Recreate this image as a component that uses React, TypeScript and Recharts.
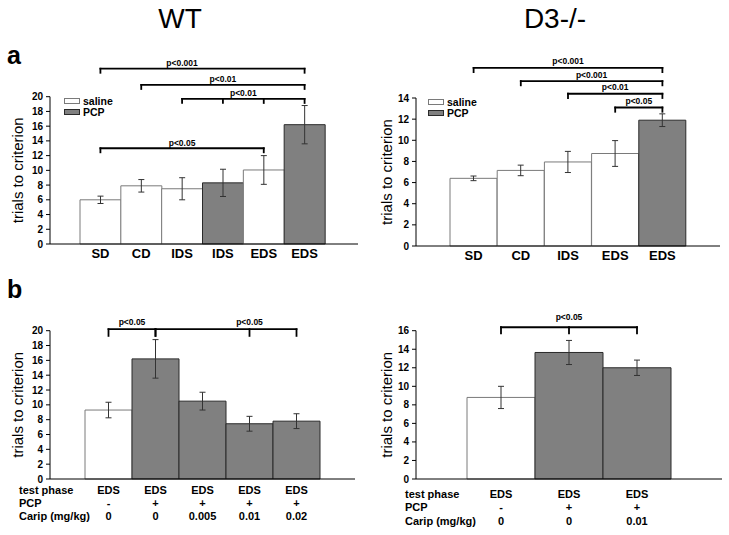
import React from 'react';
import { BarChart, Bar, XAxis, YAxis, ErrorBar, Cell, ReferenceLine, ReferenceDot, Legend } from 'recharts';

const FONT = '"Liberation Sans", Arial, Helvetica, sans-serif';

// ---------- Panel a, WT ----------
const wtPhaseKeys = ['SD', 'CD', 'IDS-s', 'IDS-p', 'EDS-s', 'EDS-p'];
const wtPhaseLabels = ['SD', 'CD', 'IDS', 'IDS', 'EDS', 'EDS'];
const wtPhaseGroups = ['saline', 'saline', 'saline', 'PCP', 'saline', 'PCP'];
const wtPhaseMeans = [6.0, 7.9, 7.5, 8.3, 10.05, 16.2];
const wtPhaseErrors = [0.5, 0.85, 1.5, 1.85, 1.95, 2.6];
const wtPhaseTicks = [0, 2, 4, 6, 8, 10, 12, 14, 16, 18, 20];
const wtPhaseBrackets = [
  { from: 'SD', to: 'EDS-p', mids: [], level: 23.8, text: 'p<0.001', labelAt: 'IDS-s' },
  { from: 'CD', to: 'EDS-p', mids: [], level: 21.6, text: 'p<0.01', labelAt: 'IDS-p' },
  { from: 'IDS-s', to: 'EDS-p', mids: ['IDS-p', 'EDS-s'], level: 19.7, text: 'p<0.01', labelAt: '' },
  { from: 'SD', to: 'EDS-s', mids: [], level: 13.0, text: 'p<0.05', labelAt: '' },
];

// ---------- Panel a, D3-/- ----------
const d3PhaseKeys = ['SD', 'CD', 'IDS-s', 'EDS-s', 'EDS-p'];
const d3PhaseLabels = ['SD', 'CD', 'IDS', 'EDS', 'EDS'];
const d3PhaseGroups = ['saline', 'saline', 'saline', 'saline', 'PCP'];
const d3PhaseMeans = [6.4, 7.15, 7.95, 8.75, 11.9];
const d3PhaseErrors = [0.22, 0.5, 1.0, 1.22, 0.6];
const d3PhaseTicks = [0, 2, 4, 6, 8, 10, 12, 14];
const d3PhaseBrackets = [
  { from: 'SD', to: 'EDS-p', mids: [], level: 16.85, text: 'p<0.001', labelAt: '' },
  { from: 'CD', to: 'EDS-p', mids: [], level: 15.6, text: 'p<0.001', labelAt: '' },
  { from: 'IDS-s', to: 'EDS-p', mids: [], level: 14.4, text: 'p<0.01', labelAt: '' },
  { from: 'EDS-s', to: 'EDS-p', mids: [], level: 13.1, text: 'p<0.05', labelAt: '' },
];

// ---------- Panel b, WT ----------
const wtDoseKeys = ['g1', 'g2', 'g3', 'g4', 'g5'];
const wtDosePhase = ['EDS', 'EDS', 'EDS', 'EDS', 'EDS'];
const wtDosePcp = ['-', '+', '+', '+', '+'];
const wtDoseCarip = ['0', '0', '0.005', '0.01', '0.02'];
const wtDoseGroups = ['saline', 'PCP', 'PCP', 'PCP', 'PCP'];
const wtDoseMeans = [9.3, 16.2, 10.5, 7.45, 7.8];
const wtDoseErrors = [1.05, 2.6, 1.2, 1.0, 1.0];
const wtDoseTicks = [0, 2, 4, 6, 8, 10, 12, 14, 16, 18, 20];
const wtDoseBrackets = [
  { from: 'g1', to: 'g2', mids: [], level: 20.2, text: 'p<0.05', labelAt: '' },
  { from: 'g2', to: 'g5', mids: ['g4'], level: 20.2, text: 'p<0.05', labelAt: 'g4' },
];

// ---------- Panel b, D3-/- ----------
const d3DoseKeys = ['g1', 'g2', 'g3'];
const d3DosePhase = ['EDS', 'EDS', 'EDS'];
const d3DosePcp = ['-', '+', '+'];
const d3DoseCarip = ['0', '0', '0.01'];
const d3DoseGroups = ['saline', 'PCP', 'PCP'];
const d3DoseMeans = [8.8, 13.65, 12.0];
const d3DoseErrors = [1.2, 1.3, 0.83];
const d3DoseTicks = [0, 2, 4, 6, 8, 10, 12, 14, 16];
const d3DoseBrackets = [
  { from: 'g1', to: 'g3', mids: ['g2'], level: 16.37, text: 'p<0.05', labelAt: 'g2' },
];

const rowLabels = ['test phase', 'PCP', 'Carip (mg/kg)'];
const legendItems = ['saline', 'PCP'];

const FILL: Record<string, string> = { saline: '#ffffff', PCP: '#808080' };
const STROKE: Record<string, string> = { saline: '#7a7a7a', PCP: '#2a2a2a' };

type Bracket = { from: string; to: string; mids: string[]; level: number; text: string; labelAt: string };

const build = (keys: string[], groups: string[], means: number[], errs: number[]) =>
  keys.map((k, i) => ({ key: k, group: groups[i], mean: means[i], err: errs[i] }));

const labelStyle = { fontSize: 8.5, fontWeight: 'bold', fill: '#000', fontFamily: FONT };

function bracketElements(b: Bracket, depth: number, offset: number, id: string) {
  const els: any[] = [];
  const line = { stroke: '#000', strokeWidth: 1.8, strokeLinecap: 'square' as const, ifOverflow: 'visible' as const };
  els.push(
    <ReferenceLine
      key={id + 'h'}
      segment={[{ x: b.from, y: b.level }, { x: b.to, y: b.level }]}
      {...line}
      label={b.labelAt ? undefined : { value: b.text, position: 'top', offset, ...labelStyle }}
    />
  );
  [b.from, ...b.mids, b.to].forEach((c, i) =>
    els.push(
      <ReferenceLine key={id + 'v' + i} segment={[{ x: c, y: b.level }, { x: c, y: b.level - depth }]} {...line} />
    )
  );
  if (b.labelAt) {
    els.push(
      <ReferenceDot
        key={id + 't'}
        x={b.labelAt}
        y={b.level}
        r={0}
        fill="none"
        stroke="none"
        ifOverflow="visible"
        label={{ value: b.text, position: 'top', offset, ...labelStyle }}
      />
    );
  }
  return els;
}

const LegendBox = () => (
  <div style={{ fontFamily: FONT, fontSize: 10.5, fontWeight: 'bold', color: '#000' }}>
    {legendItems.map((name) => (
      <div key={name} style={{ display: 'flex', alignItems: 'center', height: 10.5, lineHeight: '10.5px' }}>
        <span
          style={{
            display: 'inline-block',
            width: 16,
            height: 6,
            boxSizing: 'border-box',
            border: `1px solid ${STROKE[name]}`,
            background: FILL[name],
            marginRight: 3,
          }}
        />
        {name}
      </div>
    ))}
  </div>
);

const makeRowTick = (rows: string[][], offsets: number[]) => (props: any) => {
  const { x, y, payload, index } = props;
  const i = payload && typeof payload.index === 'number' ? payload.index : index;
  return (
    <g>
      {rows.map((r, k) => (
        <text
          key={k}
          x={x}
          y={y + offsets[k]}
          dy="0.35em"
          textAnchor="middle"
          fontSize={11}
          fontWeight="bold"
          fontFamily={FONT}
          fill="#000"
        >
          {r[i]}
        </text>
      ))}
    </g>
  );
};

const yTickStyle = { fontSize: 10, fontWeight: 'bold', fill: '#000', fontFamily: FONT };
const yLabel = (dx: number) => ({
  value: 'trials to criterion',
  angle: -90,
  position: 'center' as const,
  dx,
  fontSize: 15,
  fill: '#000',
  fontFamily: FONT,
});

function Bars({ data }: { data: any[] }) {
  return (
    <Bar dataKey="mean" isAnimationActive={false}>
      {data.map((d) => (
        <Cell key={d.key} fill={FILL[d.group]} stroke={STROKE[d.group]} strokeWidth={1} />
      ))}
      <ErrorBar dataKey="err" width={3} stroke="#333" strokeWidth={1} direction="y" isAnimationActive={false} />
    </Bar>
  );
}

export default function App() {
  const wtPhase = build(wtPhaseKeys, wtPhaseGroups, wtPhaseMeans, wtPhaseErrors);
  const d3Phase = build(d3PhaseKeys, d3PhaseGroups, d3PhaseMeans, d3PhaseErrors);
  const wtDose = build(wtDoseKeys, wtDoseGroups, wtDoseMeans, wtDoseErrors);
  const d3Dose = build(d3DoseKeys, d3DoseGroups, d3DoseMeans, d3DoseErrors);

  const wtRowTick = makeRowTick([wtDosePhase, wtDosePcp, wtDoseCarip], [11, 24, 37]);
  const d3RowTick = makeRowTick([d3DosePhase, d3DosePcp, d3DoseCarip], [15, 28.5, 42]);

  const xTickStyle = { fontSize: 13, fontWeight: 'bold', fill: '#000', fontFamily: FONT };

  return (
    <div style={{ position: 'absolute', left: 0, top: 0, width: 729, height: 535, background: '#fff', overflow: 'hidden' }}>
      {/* a — WT */}
      <div style={{ position: 'absolute', left: 0, top: 50 }}>
        <BarChart width={362} height={215} data={wtPhase} margin={{ top: 46.7, right: 4, bottom: 1, left: 0 }} barCategoryGap={0} barGap={0}>
          <XAxis
            dataKey="key"
            padding={{ left: 30, right: 33 }}
            tickFormatter={(_v: any, i: number) => wtPhaseLabels[i]}
            tick={xTickStyle}
            tickSize={0}
            tickMargin={5}
            axisLine={{ stroke: '#000' }}
            height={20}
            interval={0}
          />
          <YAxis
            domain={[0, 20]}
            ticks={wtPhaseTicks}
            interval={0}
            width={50}
            tick={yTickStyle}
            tickSize={4}
            tickMargin={3}
            axisLine={{ stroke: '#000' }}
            tickLine={{ stroke: '#000' }}
            label={yLabel(-7)}
          />
          <Legend
            content={() => <LegendBox />}
            layout="vertical"
            align="center"
            verticalAlign="middle"
            wrapperStyle={{ left: 64, top: 46, width: 'auto', height: 'auto' }}
          />
          {Bars({ data: wtPhase })}
          {wtPhaseBrackets.flatMap((b, i) => bracketElements(b, 0.55, 2.5, 'wa' + i))}
        </BarChart>
      </div>

      {/* a — D3-/- */}
      <div style={{ position: 'absolute', left: 370, top: 50 }}>
        <BarChart width={355} height={216} data={d3Phase} margin={{ top: 48, right: 5, bottom: 0, left: 0 }} barCategoryGap={0} barGap={0}>
          <XAxis
            dataKey="key"
            padding={{ left: 34, right: 34 }}
            tickFormatter={(_v: any, i: number) => d3PhaseLabels[i]}
            tick={xTickStyle}
            tickSize={0}
            tickMargin={5}
            axisLine={{ stroke: '#000' }}
            height={20}
            interval={0}
          />
          <YAxis
            domain={[0, 14]}
            ticks={d3PhaseTicks}
            interval={0}
            width={46}
            tick={yTickStyle}
            tickSize={4}
            tickMargin={3}
            axisLine={{ stroke: '#000' }}
            tickLine={{ stroke: '#000' }}
            label={yLabel(-6)}
          />
          <Legend
            content={() => <LegendBox />}
            layout="vertical"
            align="center"
            verticalAlign="middle"
            wrapperStyle={{ left: 58, top: 47, width: 'auto', height: 'auto' }}
          />
          {Bars({ data: d3Phase })}
          {d3PhaseBrackets.flatMap((b, i) => bracketElements(b, 0.4, 3.5, 'da' + i))}
        </BarChart>
      </div>

      {/* b — WT */}
      <div style={{ position: 'absolute', left: 0, top: 300 }}>
        <BarChart width={360} height={235} data={wtDose} margin={{ top: 30.7, right: 5, bottom: 0, left: 0 }} barCategoryGap={0} barGap={0}>
          <XAxis
            dataKey="key"
            padding={{ left: 35, right: 35 }}
            tick={wtRowTick}
            tickSize={0}
            tickMargin={0}
            axisLine={{ stroke: '#000' }}
            height={56}
            interval={0}
          />
          <YAxis
            domain={[0, 20]}
            ticks={wtDoseTicks}
            interval={0}
            width={50}
            tick={yTickStyle}
            tickSize={4}
            tickMargin={3}
            axisLine={{ stroke: '#000' }}
            tickLine={{ stroke: '#000' }}
            label={yLabel(-7)}
          />
          {Bars({ data: wtDose })}
          {wtDoseBrackets.flatMap((b, i) => bracketElements(b, 0.9, 4, 'wb' + i))}
        </BarChart>
      </div>

      {/* b — D3-/- */}
      <div style={{ position: 'absolute', left: 370, top: 300 }}>
        <BarChart width={356} height={235} data={d3Dose} margin={{ top: 30.7, right: 4, bottom: 0, left: 0 }} barCategoryGap={0} barGap={0}>
          <XAxis
            dataKey="key"
            padding={{ left: 51, right: 51 }}
            tick={d3RowTick}
            tickSize={0}
            tickMargin={0}
            axisLine={{ stroke: '#000' }}
            height={56}
            interval={0}
          />
          <YAxis
            domain={[0, 16]}
            ticks={d3DoseTicks}
            interval={0}
            width={46}
            tick={yTickStyle}
            tickSize={4}
            tickMargin={3}
            axisLine={{ stroke: '#000' }}
            tickLine={{ stroke: '#000' }}
            label={yLabel(-6)}
          />
          {Bars({ data: d3Dose })}
          {d3DoseBrackets.flatMap((b, i) => bracketElements(b, 0.65, 7, 'db' + i))}
        </BarChart>
      </div>

      {/* titles, panel letters, row labels */}
      <svg width={729} height={535} style={{ position: 'absolute', left: 0, top: 0, pointerEvents: 'none' }} fontFamily={FONT}>
        <text x={180} y={28} textAnchor="middle" fontSize={28} fill="#000">WT</text>
        <text x={555} y={28} textAnchor="middle" fontSize={28} fill="#000">D3-/-</text>
        <text x={7} y={64} fontSize={25} fontWeight="bold" fill="#000">a</text>
        <text x={7} y={298} fontSize={25} fontWeight="bold" fill="#000">b</text>
        {rowLabels.map((t, i) => (
          <text key={'wr' + i} x={19} y={490 + i * 13} dy="0.35em" fontSize={11} fontWeight="bold" fill="#000">{t}</text>
        ))}
        {rowLabels.map((t, i) => (
          <text key={'dr' + i} x={405} y={494 + i * 13.4} dy="0.35em" fontSize={11} fontWeight="bold" fill="#000">{t}</text>
        ))}
      </svg>
    </div>
  );
}
